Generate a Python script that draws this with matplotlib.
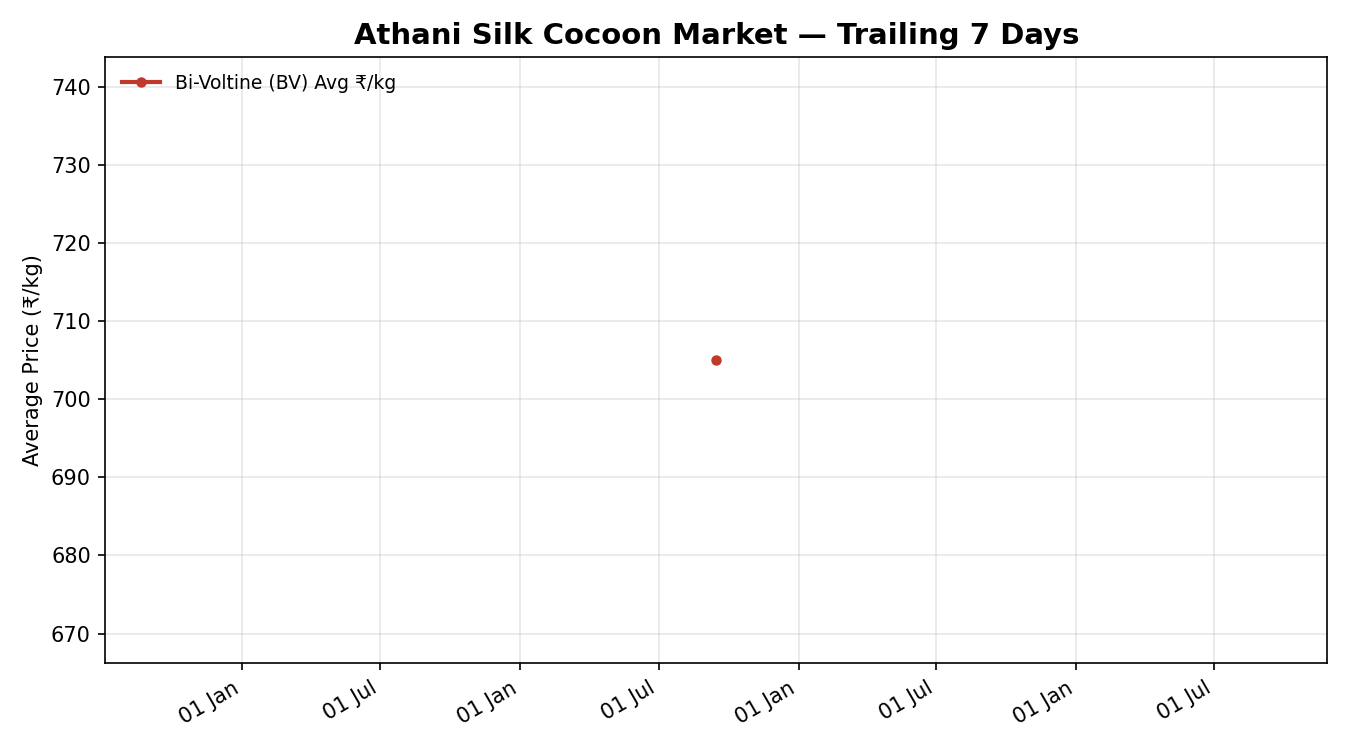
import matplotlib
matplotlib.use('Agg')
from matplotlib import pyplot as plt
import matplotlib.dates as mdates
import pandas as pd

dates = pd.to_datetime(["2024-09-15"])
bv_avg = [705]

fig, ax = plt.subplots(figsize=(9, 5), dpi=150)
ax.plot(dates, bv_avg, color="#c0392b", linewidth=2, marker="o", markersize=4,
        label="Bi-Voltine (BV) Avg ₹/kg")

ax.set_title("Athani Silk Cocoon Market — Trailing 7 Days", fontsize=14, fontweight="bold")
ax.set_ylabel("Average Price (₹/kg)", fontsize=10)
ax.grid(True, alpha=0.3)
ax.xaxis.set_major_formatter(mdates.DateFormatter("%d %b"))
ax.tick_params(labelsize=10)
ax.legend(loc="upper left", frameon=False, fontsize=9)
fig.autofmt_xdate()
plt.tight_layout()
plt.savefig("out.png")
